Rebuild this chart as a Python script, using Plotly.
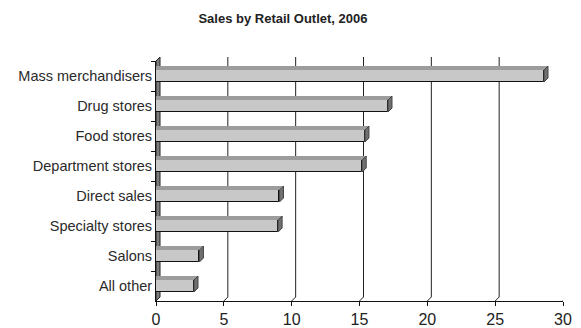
import plotly.graph_objects as go

categories = ["Mass merchandisers", "Drug stores", "Food stores", "Department stores",
              "Direct sales", "Specialty stores", "Salons", "All other"]
values = [28.6, 17.1, 15.4, 15.2, 9.1, 9.0, 3.2, 2.8]
x_ticks = [0, 5, 10, 15, 20, 25, 30]
title = "Sales by Retail Outlet, 2006"

DX, DY = 4, 4          # pseudo-3D depth in pixels
HALF = 6               # half bar thickness in pixels
FONT = "Liberation Sans, Arial, sans-serif"

fig = go.Figure()
fig.add_trace(go.Bar(
    y=categories, x=values, orientation="h", width=0.4,
    marker=dict(color="#c8c8c8", line=dict(color="#111111", width=1)),
    hoverinfo="x+y",
))

shapes = []
# back-wall gridlines with floor diagonal
for v in x_ticks[1:]:
    shapes.append(dict(
        type="path", layer="below", xref="x", yref="paper",
        xsizemode="pixel", xanchor=v, ysizemode="pixel", yanchor=0,
        path=f"M0,0 L{DX},{DY} L{DX},{240 + DY}",
        line=dict(color="#222222", width=1.6 if v == x_ticks[-1] else 1),
    ))
# left side wall
shapes.append(dict(
    type="path", layer="below", xref="x", yref="paper",
    xsizemode="pixel", xanchor=0, ysizemode="pixel", yanchor=0,
    path=f"M0,0 L0,240 L{DX},{240 + DY} L{DX},{DY} Z",
    fillcolor="#7c7c7c", line=dict(color="#222222", width=1),
))
# bar top and side faces
for i, v in enumerate(values):
    shapes.append(dict(
        type="rect", layer="above", xref="x", yref="y",
        x0=0, x1=v, ysizemode="pixel", yanchor=i, y0=HALF, y1=HALF + DY,
        fillcolor="#9c9c9c", line=dict(width=0),
    ))
    shapes.append(dict(
        type="path", layer="above", xref="x", yref="y",
        xsizemode="pixel", xanchor=v, ysizemode="pixel", yanchor=i,
        path=f"M-0.5,{HALF} L{DX},{HALF + DY} L-0.5,{HALF + DY} Z",
        fillcolor="#9c9c9c", line=dict(width=0),
    ))
    shapes.append(dict(
        type="path", layer="above", xref="x", yref="y",
        xsizemode="pixel", xanchor=v, ysizemode="pixel", yanchor=i,
        path=f"M0,{HALF} L{DX},{HALF + DY} L{DX},{-HALF + DY} L0,{-HALF} Z",
        fillcolor="#707070", line=dict(color="#444444", width=1),
    ))

fig.update_layout(
    width=581, height=328,
    margin=dict(l=156, r=18, t=61, b=27, pad=0, autoexpand=False),
    paper_bgcolor="white", plot_bgcolor="white",
    showlegend=False, bargap=0,
    title=dict(text=title, x=0.487, xanchor="center", y=0.945, yanchor="middle",
               font=dict(family=FONT, size=13, color="#222222", weight="bold")),
    shapes=shapes,
    xaxis=dict(range=[0, 30], tickvals=x_ticks, showgrid=False, zeroline=False,
               automargin=False,
               showline=True, linecolor="#111111", linewidth=1,
               ticks="outside", ticklen=4, tickcolor="#111111",
               tickfont=dict(family=FONT, size=16, color="#222222")),
    yaxis=dict(type="category", categoryorder="array", categoryarray=categories,
               range=[7.5, -0.5], showgrid=False, zeroline=False, automargin=False,
               showline=True, linecolor="#111111", linewidth=1,
               ticks="outside", ticklen=4, tickcolor="#111111", tickson="boundaries",
               tickfont=dict(family=FONT, size=14.5, color="#2a2a2a")),
)

fig.write_html("out.html")
